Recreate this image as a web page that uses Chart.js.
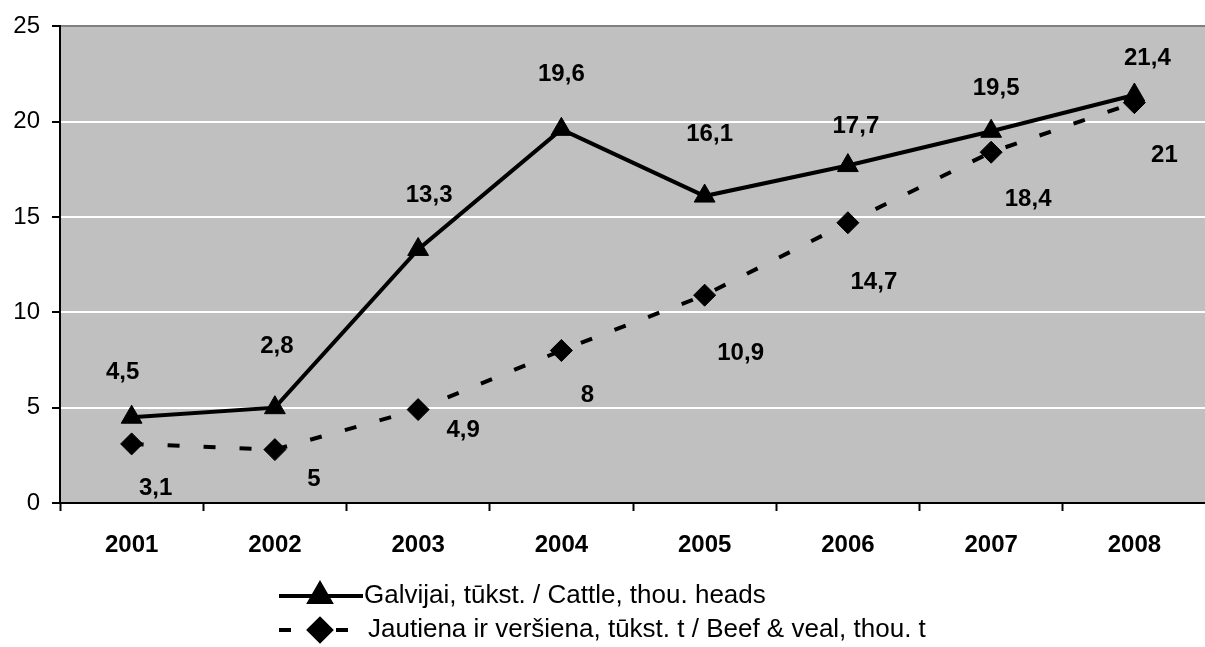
<!DOCTYPE html>
<html>
<head>
<meta charset="utf-8">
<script src="https://cdn.jsdelivr.net/npm/chart.js@4.4.1/dist/chart.umd.min.js"></script>
<style>
    html, body { margin: 0; padding: 0; background: #fff; overflow: hidden; }
    #wrap { width: 1205px; height: 647px; overflow: hidden; }
    canvas { display: block; }
</style>
</head>
<body>
<div id="wrap"><canvas id="beefChart" width="1219" height="647"></canvas></div>
<script>
// duomenys
const years = ['2001', '2002', '2003', '2004', '2005', '2006', '2007', '2008'];
const cattle = [4.5, 5, 13.3, 19.6, 16.1, 17.7, 19.5, 21.4];
const beef = [3.1, 2.8, 4.9, 8, 10.9, 14.7, 18.4, 21];
// etiketės taip, kaip jos parašytos originale
const cattleLabels = ['4,5', '2,8', '13,3', '19,6', '16,1', '17,7', '19,5', '21,4'];
const beefLabels = ['3,1', '5', '4,9', '8', '10,9', '14,7', '18,4', '21'];
const yTicks = [0, 5, 10, 15, 20, 25];
const seriesNames = [
    'Galvijai, tūkst. / Cattle, thou. heads',
    'Jautiena ir veršiena, tūkst. t / Beef & veal, thou. t'
];

// etikečių poslinkiai nuo taško (px)
const cattleLabelShift = [[-9, -45], [2, -61], [11, -54], [0, -55], [5, -62], [8, -39], [5, -43], [13, -37]];
const beefLabelShift = [[24, 44], [39, 30], [45, 21], [26, 45], [36, 58], [26, 60], [37, 47], [30, 53]];

const FONT = '"Liberation Sans", Arial, sans-serif';

// pilkas fonas
const plotBackground = {
    id: 'plotBackground',
    beforeDraw(chart) {
        const a = chart.chartArea;
        const ctx = chart.ctx;
        ctx.save();
        ctx.fillStyle = '#c0c0c0';
        ctx.fillRect(a.left, a.top, a.right - a.left, a.bottom - a.top);
        ctx.restore();
    }
};

// reikšmių etiketės
const valueLabels = {
    id: 'valueLabels',
    afterDatasetsDraw(chart) {
        const ctx = chart.ctx;
        const sets = [[cattleLabels, cattleLabelShift], [beefLabels, beefLabelShift]];
        ctx.save();
        ctx.font = 'bold 24px ' + FONT;
        ctx.fillStyle = '#000';
        ctx.textAlign = 'center';
        ctx.textBaseline = 'middle';
        sets.forEach((s, di) => {
            const meta = chart.getDatasetMeta(di);
            meta.data.forEach((pt, i) => {
                ctx.fillText(s[0][i], pt.x + s[1][i][0], pt.y + s[1][i][1]);
            });
        });
        ctx.restore();
    }
};

// legenda apačioje
const bottomLegend = {
    id: 'bottomLegend',
    afterDraw(chart) {
        const ctx = chart.ctx;
        const rows = [596, 630];
        const x0 = 279, xm = 320;
        ctx.save();
        ctx.strokeStyle = '#000';
        ctx.fillStyle = '#000';
        ctx.lineWidth = 4;

        // 1 eilutė - ištisinė linija su trikampiu
        ctx.beginPath();
        ctx.moveTo(x0, rows[0]);
        ctx.lineTo(363, rows[0]);
        ctx.stroke();
        Chart.helpers.drawPoint(ctx, { pointStyle: 'triangle', radius: 12, borderWidth: 1 }, xm, rows[0]);
        ctx.fill();

        // 2 eilutė - brūkšninė linija su rombu
        ctx.setLineDash([12, 45]);
        ctx.beginPath();
        ctx.moveTo(x0, rows[1]);
        ctx.lineTo(350, rows[1]);
        ctx.stroke();
        ctx.setLineDash([]);
        Chart.helpers.drawPoint(ctx, { pointStyle: 'rectRot', radius: 11, borderWidth: 1 }, xm, rows[1]);
        ctx.fill();

        ctx.font = '26px ' + FONT;
        ctx.textAlign = 'left';
        ctx.textBaseline = 'middle';
        ctx.fillText(seriesNames[0], 364, rows[0]);
        ctx.fillText(seriesNames[1], 368, rows[1]);
        ctx.restore();
    }
};

new Chart(document.getElementById('beefChart'), {
    type: 'line',
    data: {
        labels: years,
        datasets: [{
            label: seriesNames[0],
            data: cattle,
            borderColor: '#000',
            backgroundColor: '#000',
            borderWidth: 4,
            pointStyle: 'triangle',
            pointRadius: 12,
            pointBorderWidth: 1,
            pointBackgroundColor: '#000',
            pointBorderColor: '#000',
            tension: 0,
            fill: false
        }, {
            label: seriesNames[1],
            data: beef,
            borderColor: '#000',
            backgroundColor: '#000',
            borderWidth: 4,
            borderDash: [12, 24],
            pointStyle: 'rectRot',
            pointRadius: 11,
            pointBorderWidth: 1,
            pointBackgroundColor: '#000',
            pointBorderColor: '#000',
            tension: 0,
            fill: false
        }]
    },
    options: {
        responsive: false,
        animation: false,
        layout: {
            padding: { top: 24, right: 5, left: 0, bottom: 0 }
        },
        plugins: {
            legend: { display: false },
            tooltip: { enabled: false }
        },
        scales: {
            x: {
                type: 'category',
                offset: true,
                afterFit: function(scale) { scale.height = 144; },
                grid: {
                    offset: true,
                    drawOnChartArea: false,
                    drawTicks: true,
                    tickLength: 8,
                    tickColor: '#000',
                    tickWidth: 2
                },
                border: { color: '#000', width: 2 },
                ticks: {
                    color: '#000',
                    padding: 20,
                    font: { family: FONT, size: 24, weight: 'bold' }
                }
            },
            y: {
                min: 0,
                max: 25,
                afterFit: function(scale) { scale.width = 60; },
                afterBuildTicks: function(scale) {
                    scale.ticks = yTicks.map(v => ({ value: v }));
                },
                grid: {
                    color: function(c) {
                        if (c.tick && c.tick.value === 25) return '#808080';
                        return '#ffffff';
                    },
                    lineWidth: 2,
                    tickLength: 8,
                    tickColor: '#000',
                    tickWidth: 2
                },
                border: { color: '#000', width: 2 },
                ticks: {
                    color: '#000',
                    padding: 12,
                    font: { family: FONT, size: 24 }
                }
            }
        }
    },
    plugins: [plotBackground, valueLabels, bottomLegend]
});
</script>
</body>
</html>
